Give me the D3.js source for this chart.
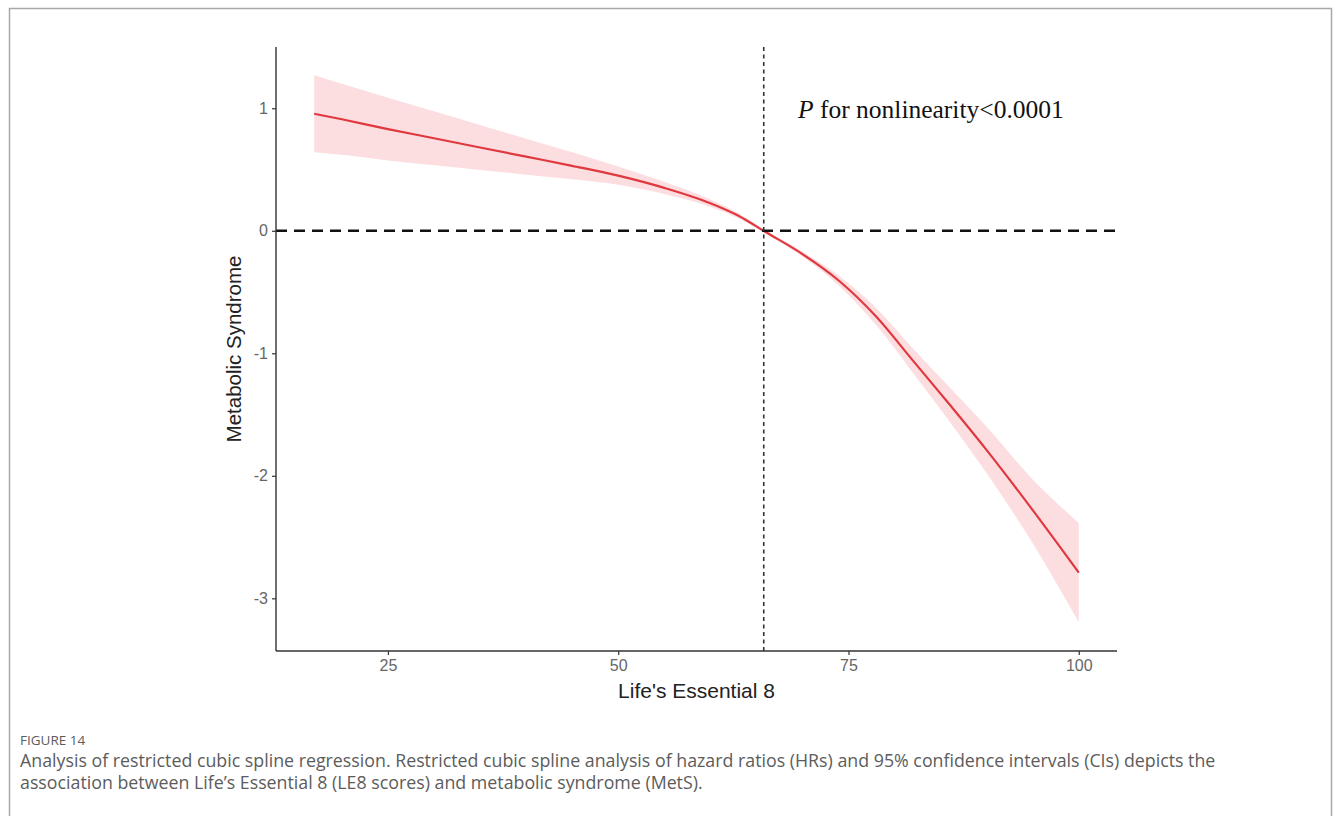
<!DOCTYPE html>
<html>
<head>
<meta charset="utf-8">
<script src="https://cdn.jsdelivr.net/npm/d3@7"></script>
<style>
  html, body { margin: 0; padding: 0; background: #fff; }
  svg { display: block; }
</style>
</head>
<body>
<svg id="chart" width="1333" height="816"></svg>
<script>
// LE8 score grid and spline estimates with 95% CI
const le8Score = [17, 20, 25, 30, 35, 40, 45, 50, 55, 60, 63, 66, 70, 74, 78, 82, 86, 90, 95, 100];
const fitValue = [0.955, 0.91, 0.83, 0.755, 0.68, 0.605, 0.53, 0.45, 0.35, 0.225, 0.125, -0.01, -0.19, -0.41, -0.70, -1.06, -1.42, -1.79, -2.28, -2.79];
const ciLower  = [0.64, 0.62, 0.574, 0.535, 0.497, 0.458, 0.42, 0.375, 0.30, 0.195, 0.105, -0.022, -0.21, -0.45, -0.77, -1.16, -1.56, -1.98, -2.55, -3.195];
const ciUpper  = [1.27, 1.2, 1.086, 0.975, 0.863, 0.752, 0.64, 0.525, 0.40, 0.255, 0.145, 0.002, -0.17, -0.37, -0.63, -0.96, -1.28, -1.60, -2.03, -2.385];

const xTicks = [25, 50, 75, 100];
const yTicks = [1, 0, -1, -2, -3];
const refX = 65.8;   // reference LE8 value (vertical line)
const refY = 0;      // null effect (horizontal line)

const xDomain = [12.85, 104.15];
const yDomain = [-3.43, 1.5];

const captionLabel = "FIGURE 14";
const captionLines = [
  "Analysis of restricted cubic spline regression. Restricted cubic spline analysis of hazard ratios (HRs) and 95% confidence intervals (CIs) depicts the",
  "association between Life\u2019s Essential 8 (LE8 scores) and metabolic syndrome (MetS)."
];

const svg = d3.select("#chart");
const W = 1333, H = 816;

svg.append("rect").attr("width", W).attr("height", H).attr("fill", "#fff");

// outer figure frame (open at the bottom)
svg.append("path")
  .attr("d", `M9.5,${H + 2} V8.5 H1331.5 V${H + 2}`)
  .attr("fill", "none")
  .attr("stroke", "#a8a8a8")
  .attr("stroke-width", 1.5);

const panel = { left: 276, right: 1117, top: 47, bottom: 651 };

const x = d3.scaleLinear().domain(xDomain).range([panel.left, panel.right]);
const y = d3.scaleLinear().domain(yDomain).range([panel.bottom, panel.top]);

const rows = le8Score.map((s, i) => ({ s, fit: fitValue[i], lo: ciLower[i], hi: ciUpper[i] }));

const g = svg.append("g");

// confidence band
g.append("path")
  .datum(rows)
  .attr("fill", "#fcdee1")
  .attr("d", d3.area()
    .curve(d3.curveMonotoneX)
    .x(d => x(d.s))
    .y0(d => y(d.lo))
    .y1(d => y(d.hi)));

// fitted spline
g.append("path")
  .datum(rows)
  .attr("fill", "none")
  .attr("stroke", "#e0383f")
  .attr("stroke-width", 2.2)
  .attr("d", d3.line()
    .curve(d3.curveMonotoneX)
    .x(d => x(d.s))
    .y(d => y(d.fit)));

// reference lines
g.append("line")
  .attr("x1", panel.left).attr("x2", panel.right)
  .attr("y1", y(refY)).attr("y2", y(refY))
  .attr("stroke", "#111")
  .attr("stroke-width", 2.6)
  .attr("stroke-dasharray", "11,7");

g.append("line")
  .attr("x1", x(refX)).attr("x2", x(refX))
  .attr("y1", panel.top).attr("y2", panel.bottom)
  .attr("stroke", "#333")
  .attr("stroke-width", 1.6)
  .attr("stroke-dasharray", "4,3.5");

// axes
const xAxis = d3.axisBottom(x).tickValues(xTicks).tickFormat(d => String(d)).tickSize(4).tickPadding(5);
const yAxis = d3.axisLeft(y).tickValues(yTicks).tickFormat(d => String(d)).tickSize(4).tickPadding(4);

const gx = svg.append("g").attr("transform", `translate(0,${panel.bottom})`).call(xAxis);
const gy = svg.append("g").attr("transform", `translate(${panel.left},0)`).call(yAxis);

[gx, gy].forEach(a => {
  a.select(".domain").attr("stroke", "#333").attr("stroke-width", 1.4);
  a.selectAll(".tick line").attr("stroke", "#333").attr("stroke-width", 1.2);
  a.selectAll(".tick text")
    .attr("fill", "#666")
    .style("font-family", "'Liberation Sans', Arial, sans-serif")
    .style("font-size", "16px");
});
gx.select(".domain").attr("d", `M${panel.left},0H${panel.right}`);
gy.select(".domain").attr("d", `M0,${panel.bottom}V${panel.top}`);

// axis titles
svg.append("text")
  .attr("x", (panel.left + panel.right) / 2)
  .attr("y", 698)
  .attr("text-anchor", "middle")
  .attr("fill", "#222")
  .style("font-family", "'Liberation Sans', Arial, sans-serif")
  .style("font-size", "21px")
  .text("Life's Essential 8");

svg.append("text")
  .attr("transform", `translate(241,${(panel.top + panel.bottom) / 2}) rotate(-90)`)
  .attr("text-anchor", "middle")
  .attr("fill", "#222")
  .style("font-family", "'Liberation Sans', Arial, sans-serif")
  .style("font-size", "20.5px")
  .text("Metabolic Syndrome");

// nonlinearity annotation
const ann = svg.append("text")
  .attr("x", 798)
  .attr("y", 118)
  .attr("fill", "#111")
  .style("font-family", "'Liberation Serif', 'Times New Roman', serif")
  .style("font-size", "25.5px");
ann.append("tspan").style("font-style", "italic").text("P");
ann.append("tspan").text(" for nonlinearity<0.0001");

// caption
svg.append("text")
  .attr("x", 20).attr("y", 745)
  .attr("fill", "#5c5c5c")
  .style("font-family", "'Open Sans', 'Noto Sans', sans-serif")
  .style("font-size", "13.5px")
  .text(captionLabel);

captionLines.forEach((line, i) => {
  svg.append("text")
    .attr("x", 20).attr("y", 767 + i * 21.5)
    .attr("fill", "#5c5c5c")
    .style("font-family", "'Open Sans', 'Noto Sans', sans-serif")
    .style("font-size", "17.8px")
    .text(line);
});
</script>
</body>
</html>
